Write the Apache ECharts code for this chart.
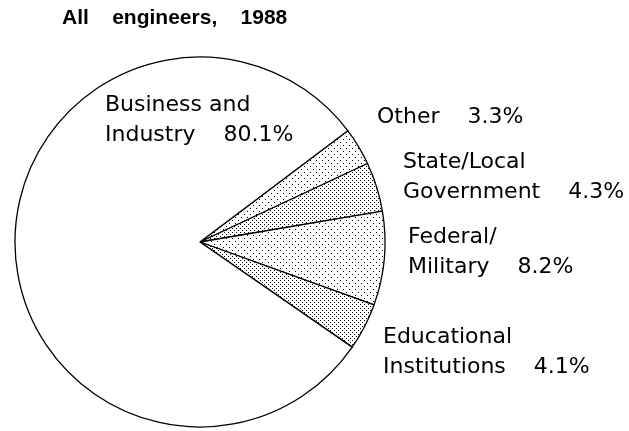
<!DOCTYPE html>
<html>
<head>
<meta charset="utf-8">
<script src="https://cdn.jsdelivr.net/npm/echarts@6/dist/echarts.min.js"></script>
<style>html,body{margin:0;padding:0;background:#fff;}#c{width:629px;height:431px;}</style>
</head>
<body>
<div id="c"></div>
<script>
const titleText = 'All    engineers,    1988';
const categories = ['Other', 'State/Local\nGovernment', 'Federal/\nMilitary', 'Educational\nInstitutions', 'Business and\nIndustry'];
const values = [3.3, 4.3, 8.2, 4.1, 80.1];
const patterns = ['sparse', 'dense', 'sparse', 'dense', 'none'];

// label anchor positions (left x, top y)
const labelPos = [[377, 102], [403, 147], [408, 222], [383, 322], [105, 90]];

function makePattern(kind) {
  const c = document.createElement('canvas');
  const ctx = c.getContext('2d');
  if (kind === 'sparse') {
    c.width = 6; c.height = 6;
    ctx.fillStyle = '#fff'; ctx.fillRect(0, 0, 6, 6);
    ctx.fillStyle = '#000';
    ctx.fillRect(1, 1, 1, 1);
    ctx.fillRect(4, 4, 1, 1);
  } else {
    c.width = 4; c.height = 4;
    ctx.fillStyle = '#fff'; ctx.fillRect(0, 0, 4, 4);
    ctx.fillStyle = '#000';
    ctx.fillRect(0, 0, 1, 1);
    ctx.fillRect(2, 2, 1, 1);
  }
  return c;
}

const data = categories.map((name, i) => ({
  name: name,
  value: values[i],
  itemStyle: {
    color: patterns[i] === 'none' ? '#ffffff' : { image: makePattern(patterns[i]), repeat: 'repeat' }
  }
}));

const chart = echarts.init(document.getElementById('c'), null, { renderer: 'canvas' });
chart.setOption({
  backgroundColor: '#ffffff',
  animation: false,
  title: {
    text: titleText,
    left: 62,
    top: 8,
    padding: 0,
    textStyle: { fontFamily: 'Liberation Sans', fontWeight: 'bold', fontSize: 21, color: '#000' }
  },
  series: [{
    type: 'pie',
    center: [200, 242],
    radius: [0, 185],
    startAngle: 37,
    clockwise: true,
    avoidLabelOverlap: false,
    data: data,
    itemStyle: { borderColor: '#000', borderWidth: 1.3 },
    emphasis: { disabled: true },
    label: {
      show: true,
      position: 'outside',
      fontFamily: 'DejaVu Sans',
      fontSize: 22,
      lineHeight: 30,
      color: '#000',
      formatter: p => p.name + '    ' + p.value.toFixed(1) + '%'
    },
    labelLine: { show: false },
    labelLayout: function (params) {
      const pos = labelPos[params.dataIndex];
      return { x: pos[0], y: pos[1], align: 'left', verticalAlign: 'top', hideOverlap: false };
    }
  }]
});
</script>
</body>
</html>
